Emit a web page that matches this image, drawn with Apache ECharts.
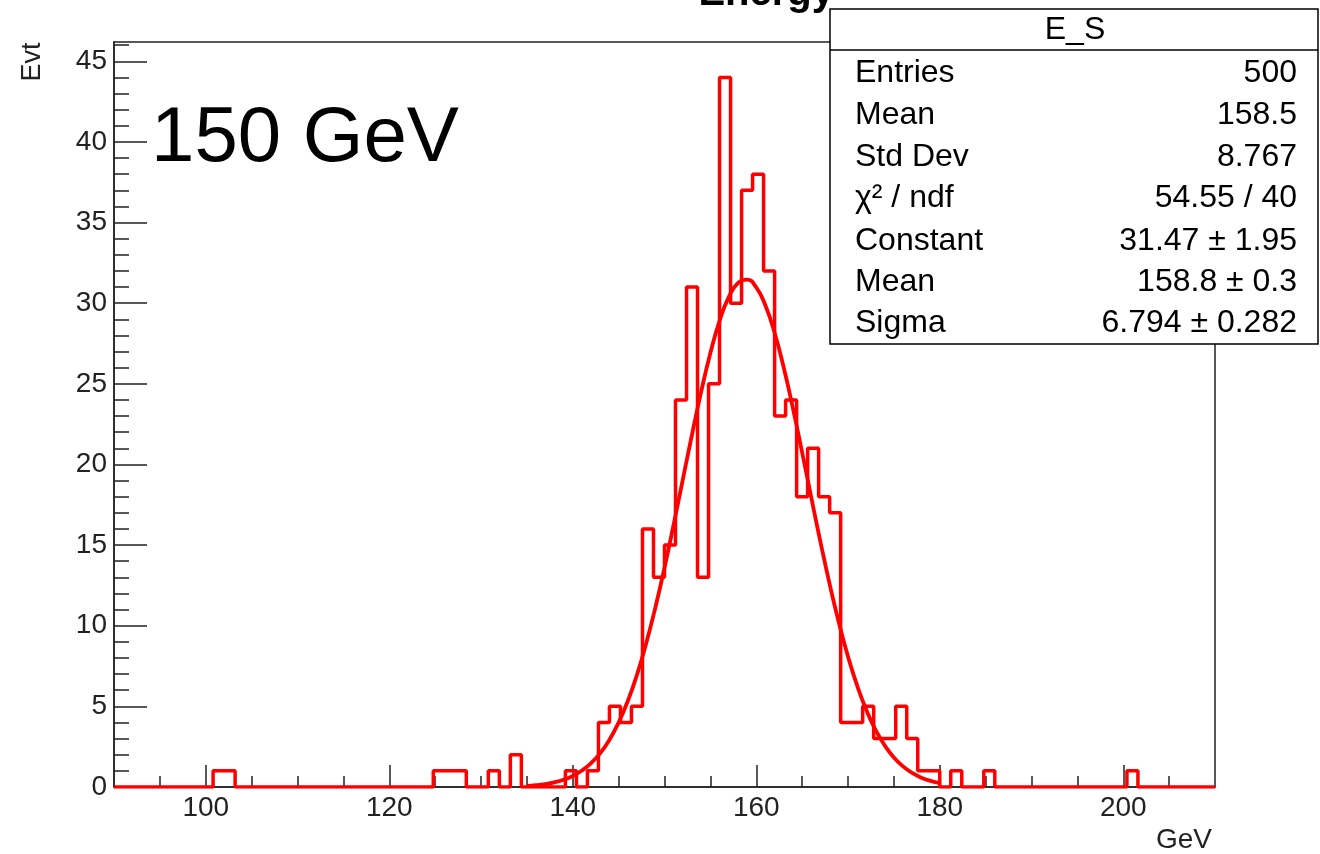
<!DOCTYPE html>
<html>
<head>
<meta charset="utf-8">
<script src="https://cdn.jsdelivr.net/npm/echarts@6/dist/echarts.min.js"></script>
<style>
  html, body { margin: 0; padding: 0; background: #fff; }
  #main { width: 1320px; height: 854px; }
</style>
</head>
<body>
<div id="main"></div>
<script>
// E_S histogram, 100 bins of 1.2 GeV between 90 and 210
const binStart = 90
const binWidth = 1.2
const counts = [
  0, 0, 0, 0, 0, 0, 0, 0, 0, 1,
  1, 0, 0, 0, 0, 0, 0, 0, 0, 0,
  0, 0, 0, 0, 0, 0, 0, 0, 0, 1,
  1, 1, 0, 0, 1, 0, 2, 0, 0, 0,
  0, 1, 0, 1, 4, 5, 4, 5, 16, 13,
  15, 24, 31, 13, 25, 44, 30, 37, 38, 32,
  23, 24, 18, 21, 18, 17, 4, 4, 5, 3,
  3, 5, 3, 1, 1, 0, 1, 0, 0, 1,
  0, 0, 0, 0, 0, 0, 0, 0, 0, 0,
  0, 0, 1, 0, 0, 0, 0, 0, 0, 0
]

// gaus fit curve (135 .. 180 GeV)
const fitX = [135, 136, 137, 138, 139, 140, 141, 142, 143, 144, 145, 146, 147, 148, 149,
  150, 151, 152, 153, 154, 155, 156, 157, 158, 159, 160, 161, 162, 163, 164,
  165, 166, 167, 168, 169, 170, 171, 172, 173, 174, 175, 176, 177, 178, 179, 180]
const fitY = [0.07, 0.11, 0.18, 0.29, 0.45, 0.68, 1.02, 1.48, 2.1, 2.93, 4.0, 5.33, 6.96, 8.9, 11.12,
  13.6, 16.28, 19.07, 21.86, 24.52, 26.91, 28.91, 30.38, 31.25, 31.46, 30.98, 29.86, 28.17, 26.0, 23.48,
  20.75, 17.95, 15.19, 12.58, 10.2, 8.09, 6.28, 4.77, 3.54, 2.58, 1.83, 1.28, 0.87, 0.58, 0.38, 0.24]

const xMajor = [100, 120, 140, 160, 180, 200]
const xMinor = [95, 105, 110, 115, 125, 130, 135, 145, 150, 155, 165, 170, 175, 185, 190, 195, 205]
const yMajor = [0, 5, 10, 15, 20, 25, 30, 35, 40, 45]
const yMinor = []
for (let v = 1; v <= 46; v++) {
  if (v % 5 !== 0) yMinor.push(v)
}

const statLabels = ['Entries', 'Mean', 'Std Dev', 'χ² / ndf', 'Constant', 'Mean', 'Sigma']
const statValues = ['500', '158.5', '8.767', '54.55 / 40', '31.47 ± 1.95', '158.8 ± 0.3', '6.794 ± 0.282']

const histData = counts.map((c, i) => [binStart + i * binWidth, c])
histData.push([binStart + counts.length * binWidth, counts[counts.length - 1]])
const fitData = fitX.map((x, i) => [x, fitY[i]])

const font = 'Liberation Sans'
const axisColor = '#222'

const myChart = echarts.init(document.getElementById('main'))

const statRows = []
const rowY = [73, 115, 157, 198, 241, 282, 323]
statLabels.forEach((t, i) => {
  statRows.push({
    type: 'text', z: 101,
    style: { text: t, x: 855, y: rowY[i], font: '32px ' + font, fill: '#000', align: 'left', verticalAlign: 'middle' }
  })
  statRows.push({
    type: 'text', z: 101,
    style: { text: statValues[i], x: 1297, y: rowY[i], font: '32px ' + font, fill: '#000', align: 'right', verticalAlign: 'middle' }
  })
})

const option = {
  animation: false,
  backgroundColor: '#fff',
  grid: {
    left: 114, right: 105, top: 42, bottom: 67,
    show: true, borderColor: axisColor, borderWidth: 1.5, backgroundColor: 'transparent'
  },
  xAxis: [
    {
      type: 'value', min: 90, max: 210, position: 'bottom',
      axisLine: { show: true, onZero: false, lineStyle: { color: axisColor, width: 1.5 } },
      axisTick: { show: true, inside: true, length: 22, customValues: xMajor, lineStyle: { color: axisColor, width: 1.5 } },
      axisLabel: { customValues: xMajor, fontSize: 28, fontFamily: font, color: axisColor, margin: 7 },
      splitLine: { show: false }
    },
    {
      type: 'value', min: 90, max: 210, position: 'bottom',
      axisLine: { show: false },
      axisTick: { show: true, inside: true, length: 11, customValues: xMinor, lineStyle: { color: axisColor, width: 1.5 } },
      axisLabel: { show: false },
      splitLine: { show: false }
    }
  ],
  yAxis: [
    {
      type: 'value', min: 0, max: 46.2, position: 'left',
      axisLine: { show: true, onZero: false, lineStyle: { color: axisColor, width: 1.5 } },
      axisTick: { show: true, inside: true, length: 33, customValues: yMajor, lineStyle: { color: axisColor, width: 1.5 } },
      axisLabel: { customValues: yMajor, fontSize: 28, fontFamily: font, color: axisColor, margin: 7 },
      splitLine: { show: false }
    },
    {
      type: 'value', min: 0, max: 46.2, position: 'left',
      axisLine: { show: false },
      axisTick: { show: true, inside: true, length: 15, customValues: yMinor, lineStyle: { color: axisColor, width: 1.5 } },
      axisLabel: { show: false },
      splitLine: { show: false }
    }
  ],
  series: [
    {
      name: 'E_S',
      type: 'line',
      step: 'end',
      data: histData,
      showSymbol: false,
      lineStyle: { color: '#ff0000', width: 3.5 },
      z: 3
    },
    {
      name: 'gaus',
      type: 'line',
      smooth: true,
      data: fitData,
      showSymbol: false,
      lineStyle: { color: '#ff0000', width: 3.8 },
      z: 4
    }
  ],
  graphic: [
    {
      type: 'text', z: 50,
      style: { text: 'Energy', x: 834, y: 14, font: 'bold 40px ' + font, fill: '#000', align: 'right', verticalAlign: 'bottom' }
    },
    {
      type: 'text', z: 50,
      style: { text: '150 GeV', x: 151, y: 139, font: '78px ' + font, fill: '#000', align: 'left', verticalAlign: 'middle' }
    },
    {
      type: 'text', z: 50, x: 33, y: 62, rotation: Math.PI / 2,
      style: { text: 'Evt', x: 0, y: 0, font: '27px ' + font, fill: axisColor, align: 'center', verticalAlign: 'middle' }
    },
    {
      type: 'text', z: 50,
      style: { text: 'GeV', x: 1212, y: 840, font: '28px ' + font, fill: axisColor, align: 'right', verticalAlign: 'middle' }
    },
    {
      type: 'rect', z: 100,
      shape: { x: 830, y: 9, width: 488, height: 335 },
      style: { fill: '#fff', stroke: '#000', lineWidth: 1.5 }
    },
    {
      type: 'line', z: 101,
      shape: { x1: 830, y1: 50, x2: 1318, y2: 50 },
      style: { stroke: '#000', lineWidth: 1.5 }
    },
    {
      type: 'text', z: 101,
      style: { text: 'E_S', x: 1075, y: 30, font: '32px ' + font, fill: '#000', align: 'center', verticalAlign: 'middle' }
    }
  ].concat(statRows)
}

myChart.setOption(option)
</script>
</body>
</html>
